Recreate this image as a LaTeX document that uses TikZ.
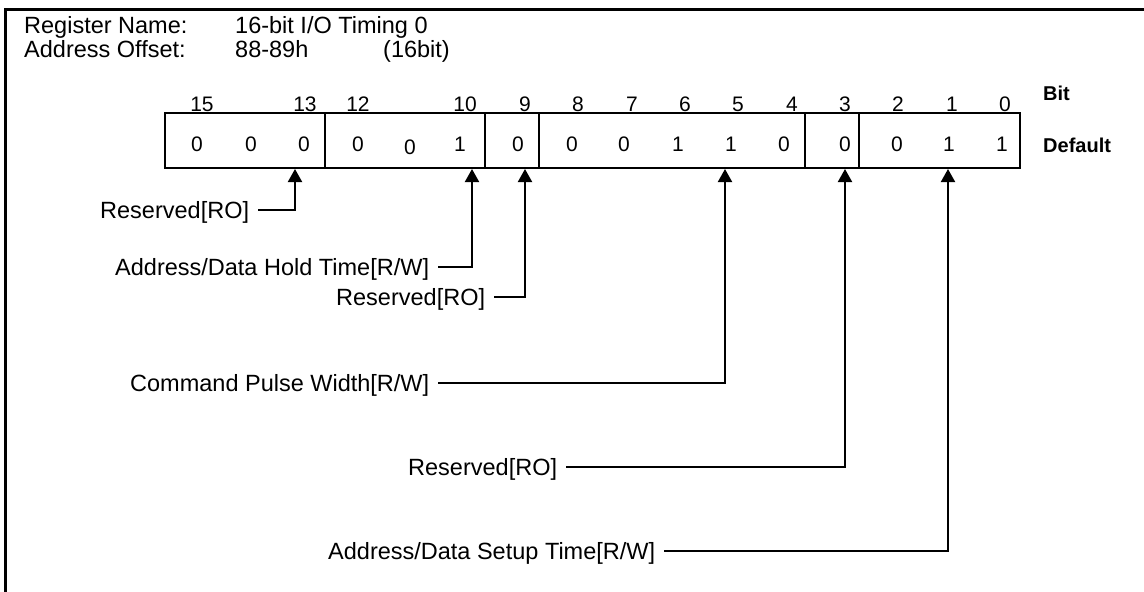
\documentclass[tikz,border=0pt]{standalone}
\usepackage{fontspec}
\setmainfont{Liberation Sans}
\usetikzlibrary{arrows.meta}
\begin{document}
\begin{tikzpicture}[x=1pt,y=-1pt,
  lbl/.style={font=\fontsize{23.5}{28}\selectfont, inner sep=0pt, text depth=0pt, anchor=west},
  hdr/.style={font=\fontsize{23.5}{28}\selectfont, inner sep=0pt, anchor=base west},
  num/.style={font=\fontsize{21}{25}\selectfont, inner sep=0pt, anchor=base},
  bld/.style={font=\fontsize{20}{24}\selectfont\bfseries, inner sep=0pt, anchor=base west},
  field/.style={draw, line width=2pt, inner sep=0pt, outer sep=0pt, minimum height=55pt, anchor=north west},
  conn/.style={line width=2pt, -{Triangle[width=14pt,length=13pt]}}]
\useasboundingbox (0,0) rectangle (1144,592);
% frame
\draw[line width=3pt] (5,592) -- (5,9) -- (1144,9);
% header
\node[hdr] (rn) at (24,33) {Register Name:};
\node[hdr] (rv) at (235,33) {16-bit I/O Timing 0};
\node[hdr] (ao) at (24,57) {Address Offset:};
\node[hdr] (av) at (235,57) {88-89h};
\node[hdr] (aw) at (383,57) {(16bit)};
% fields
\node[field, minimum width=160pt] (f1) at (165,113) {};
\node[field, minimum width=160pt] (f2) at (325,113) {};
\node[field, minimum width=54pt]  (f3) at (485,113) {};
\node[field, minimum width=266pt] (f4) at (539,113) {};
\node[field, minimum width=54pt]  (f5) at (805,113) {};
\node[field, minimum width=161pt] (f6) at (859,113) {};
% bit numbers
\node[num] (b15) at (202,111) {15};
\node[num] (b13) at (305,111) {13};
\node[num] (b12) at (358,111) {12};
\node[num] (b10) at (465,111) {10};
\node[num] (b9) at (525,111) {9};
\node[num] (b8) at (578,111) {8};
\node[num] (b7) at (632,111) {7};
\node[num] (b6) at (685,111) {6};
\node[num] (b5) at (738,111) {5};
\node[num] (b4) at (792,111) {4};
\node[num] (b3) at (845,111) {3};
\node[num] (b2) at (898,111) {2};
\node[num] (b1) at (952,111) {1};
\node[num] (b0) at (1005,111) {0};
\node[bld] (bit) at (1043,100) {Bit};
% default values
\node[num] (v15) at (197,151) {0};
\node[num] (v14) at (251,151) {0};
\node[num] (v13) at (304,151) {0};
\node[num] (v12) at (358,151) {0};
\node[num] (v11) at (410,154) {0};
\node[num] (v10) at (460,151) {1};
\node[num] (v9) at (518,151) {0};
\node[num] (v8) at (572,151) {0};
\node[num] (v7) at (624,151) {0};
\node[num] (v6) at (678,151) {1};
\node[num] (v5) at (731,151) {1};
\node[num] (v4) at (784,151) {0};
\node[num] (v3) at (845,151) {0};
\node[num] (v2) at (897,151) {0};
\node[num] (v1) at (949,151) {1};
\node[num] (v0) at (1002,151) {1};
\node[bld] (def) at (1043,152) {Default};
% arrow targets
\coordinate (t13) at (295,169);
\coordinate (t10) at (472,169);
\coordinate (t9) at (525,169);
\coordinate (t5) at (725,169);
\coordinate (t3) at (845,169);
\coordinate (t1) at (948,169);
% labels
\node[lbl] (l1) at (100,210) {Reserved[RO]};
\node[lbl] (l2) at (115,267) {Address/Data Hold Time[R/W]};
\node[lbl] (l3) at (336,297) {Reserved[RO]};
\node[lbl] (l4) at (130,383) {Command Pulse Width[R/W]};
\node[lbl] (l5) at (408,467) {Reserved[RO]};
\node[lbl] (l6) at (328,551) {Address/Data Setup Time[R/W]};
% connectors
\draw[conn] ([xshift=9pt]l1.east) -| (t13);
\draw[conn] ([xshift=9pt]l2.east) -| (t10);
\draw[conn] ([xshift=9pt]l3.east) -| (t9);
\draw[conn] ([xshift=9pt]l4.east) -| (t5);
\draw[conn] ([xshift=9pt]l5.east) -| (t3);
\draw[conn] ([xshift=9pt]l6.east) -| (t1);
\end{tikzpicture}
\end{document}
